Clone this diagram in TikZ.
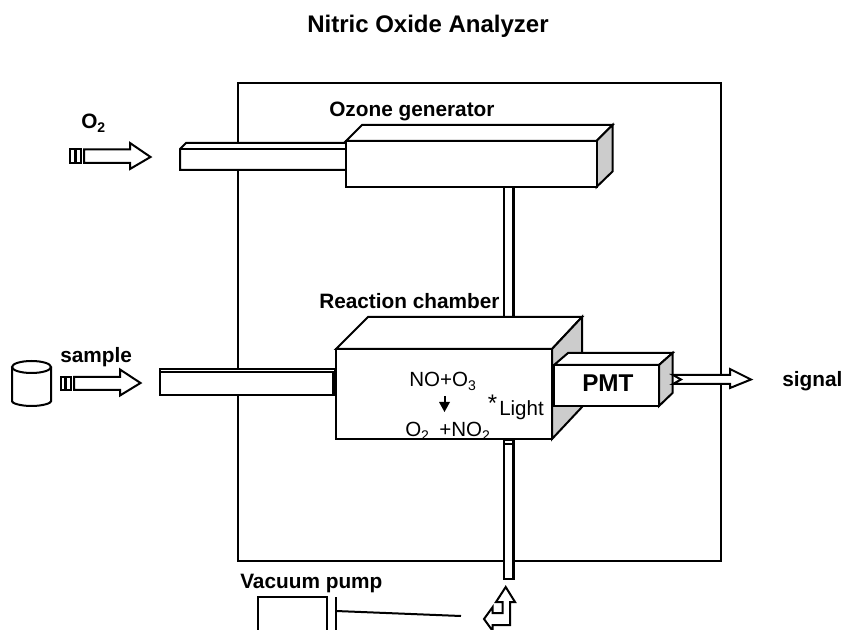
\documentclass[tikz,border=0pt]{standalone}
\usepackage{fontspec}
\setmainfont{Liberation Sans}
\usetikzlibrary{calc}
\definecolor{sidegray}{HTML}{CCCCCC}
\newcommand{\lowsub}[2]{\raisebox{#1}{\fontsize{10.5pt}{12pt}\selectfont #2}}
\tikzset{
  line/.style={draw=black,line width=1.5pt,line join=miter},
  thin line/.style={draw=black,line width=1.1pt},
  blk/.style={line,fill=white},
  shade/.style={line,fill=sidegray},
  lab/.style={inner sep=0pt,anchor=base west,font=\bfseries\fontsize{15.6pt}{18pt}\selectfont},
  txt/.style={inner sep=0pt,anchor=base west,font=\fontsize{15.4pt}{18pt}\selectfont},
}
\begin{document}
\begin{tikzpicture}[x=0.75pt,y=-0.75pt]
\useasboundingbox (0,0) rectangle (842,630);
\begin{scope}
\clip (0,0) rectangle (842,630);
% outer box
\draw[line] (238,83) rectangle (721,561);
% vertical tube top
\path[blk] (504,187) rectangle (513,318);
\draw[line,line width=2pt] (513.5,187) -- (513.5,318);
% O2 tube
\path[blk] (180,149) -- (186,143) -- (346,143) -- (346,170) -- (180,170) -- cycle;
\draw[thin line] (180,149) -- (346,149);
% Ozone generator
\path[blk] (346,141) -- (362,125) -- (612.5,125) -- (596.5,141) -- cycle;
\path[shade] (596.5,141) -- (612.5,125) -- (612.5,171.5) -- (596.5,187) -- cycle;
\path[blk] (346,141) rectangle (596.5,187);
% Reaction chamber
\path[blk] (336,349) -- (368,317) -- (582,317) -- (552,349) -- cycle;
\path[shade] (552,349) -- (582,317) -- (582,407) -- (552,439) -- cycle;
\path[blk] (336,349) rectangle (552,439);
% vertical tube bottom
\path[blk] (504,440) -- (514,440) -- (514,579) -- (504,579) -- cycle;
\draw[line,line width=2pt] (513.5,440) -- (513.5,579);
\draw[thin line] (504,444) -- (512,444);
% Sample tube
\path[blk] (160,369.5) rectangle (335,395.5);
\draw[thin line] (160,372) -- (335,372);
\draw[thin line] (333,372) -- (333,395);
% PMT
\path[blk] (554,365) -- (568,353) -- (672.5,353) -- (659,365) -- cycle;
\path[shade] (659,365) -- (672.5,353) -- (672.5,393) -- (659,406) -- cycle;
\path[blk] (554,365) rectangle (659,406);
% signal arrow
\path[blk] (673,375) -- (730,375) -- (730,369) -- (751,379.5) -- (730,388) -- (730,384) -- (673,384) -- (681,379.5) -- cycle;
% O2 arrow
\path[blk] (84,149.5) -- (130,149.5) -- (130,143) -- (150.5,157) -- (130,169) -- (130,163) -- (84,163) -- cycle;
\draw[line] (70,149.5) rectangle (75,163.5);
\draw[line] (76,149.5) rectangle (80.5,163.5);
% sample arrow
\path[blk] (74,377) -- (120,377) -- (120,369.5) -- (140.5,383) -- (120,395.5) -- (120,390) -- (74,390) -- cycle;
\draw[line] (60.5,377) rectangle (65,390);
\draw[line] (66,377) rectangle (70.5,390);
% cylinder
\path[blk,rounded corners=1pt] (12,367) -- (12,400) arc[start angle=180,end angle=0,x radius=19.5,y radius=6] -- (51,367);
\path[blk] (31.5,367) ellipse[x radius=19.5,y radius=6];
% pump
\draw[line] (258,640) -- (258,597) -- (327,597) -- (327,640);
\draw[line] (336,597) -- (336,640);
\draw[line] (336,611) -- (461,616);
% bent arrow
\path[blk] (505.7,587) -- (515,602) -- (510,602) -- (510,625) -- (492.7,625) -- (492.7,631) -- (484,619) -- (492.7,607) -- (492.7,613) -- (502.7,613) -- (502.7,602) -- (496,602) -- cycle;
% small arrow
\coordinate (ra) at (444.5,396);
\coordinate (rb) at (444.5,412);
\draw[line width=1.5pt] (ra) -- (444.5,404);
\fill (439,402) -- (450,402) -- (rb) -- cycle;
\end{scope}
% text
\node[lab,font=\bfseries\fontsize{18pt}{20pt}\selectfont] (title) at (307,33) {Nitric Oxide Analyzer};
\node[lab] (ozlab) at (329,117) {Ozone generator};
\node[lab] (o2lab) at (81,129) {O\lowsub{-3pt}{2}};
\node[lab] (samplab) at (60,363) {sample};
\node[lab] (rclab) at (319,309) {Reaction chamber};
\node[lab] (vplab) at (240,588) {Vacuum pump};
\node[lab] (siglab) at (782,387) {signal};
\node[lab,font=\bfseries\fontsize{18.2pt}{20pt}\selectfont] (pmtlab) at (582,392) {PMT};
\node[txt] (r1) at (409,387) {NO+O\lowsub{-3pt}{3}};
\node[txt] (r2a) at (405,436) {O\lowsub{-3pt}{2}};
\node[txt] (r2b) at (439,436) {+NO\lowsub{-3pt}{2}};
\node[txt,font=\fontsize{18pt}{20pt}\selectfont] (star) at (487.5,412) {*};
\node[txt] (light) at (499,416) {Light};
\end{tikzpicture}
\end{document}
